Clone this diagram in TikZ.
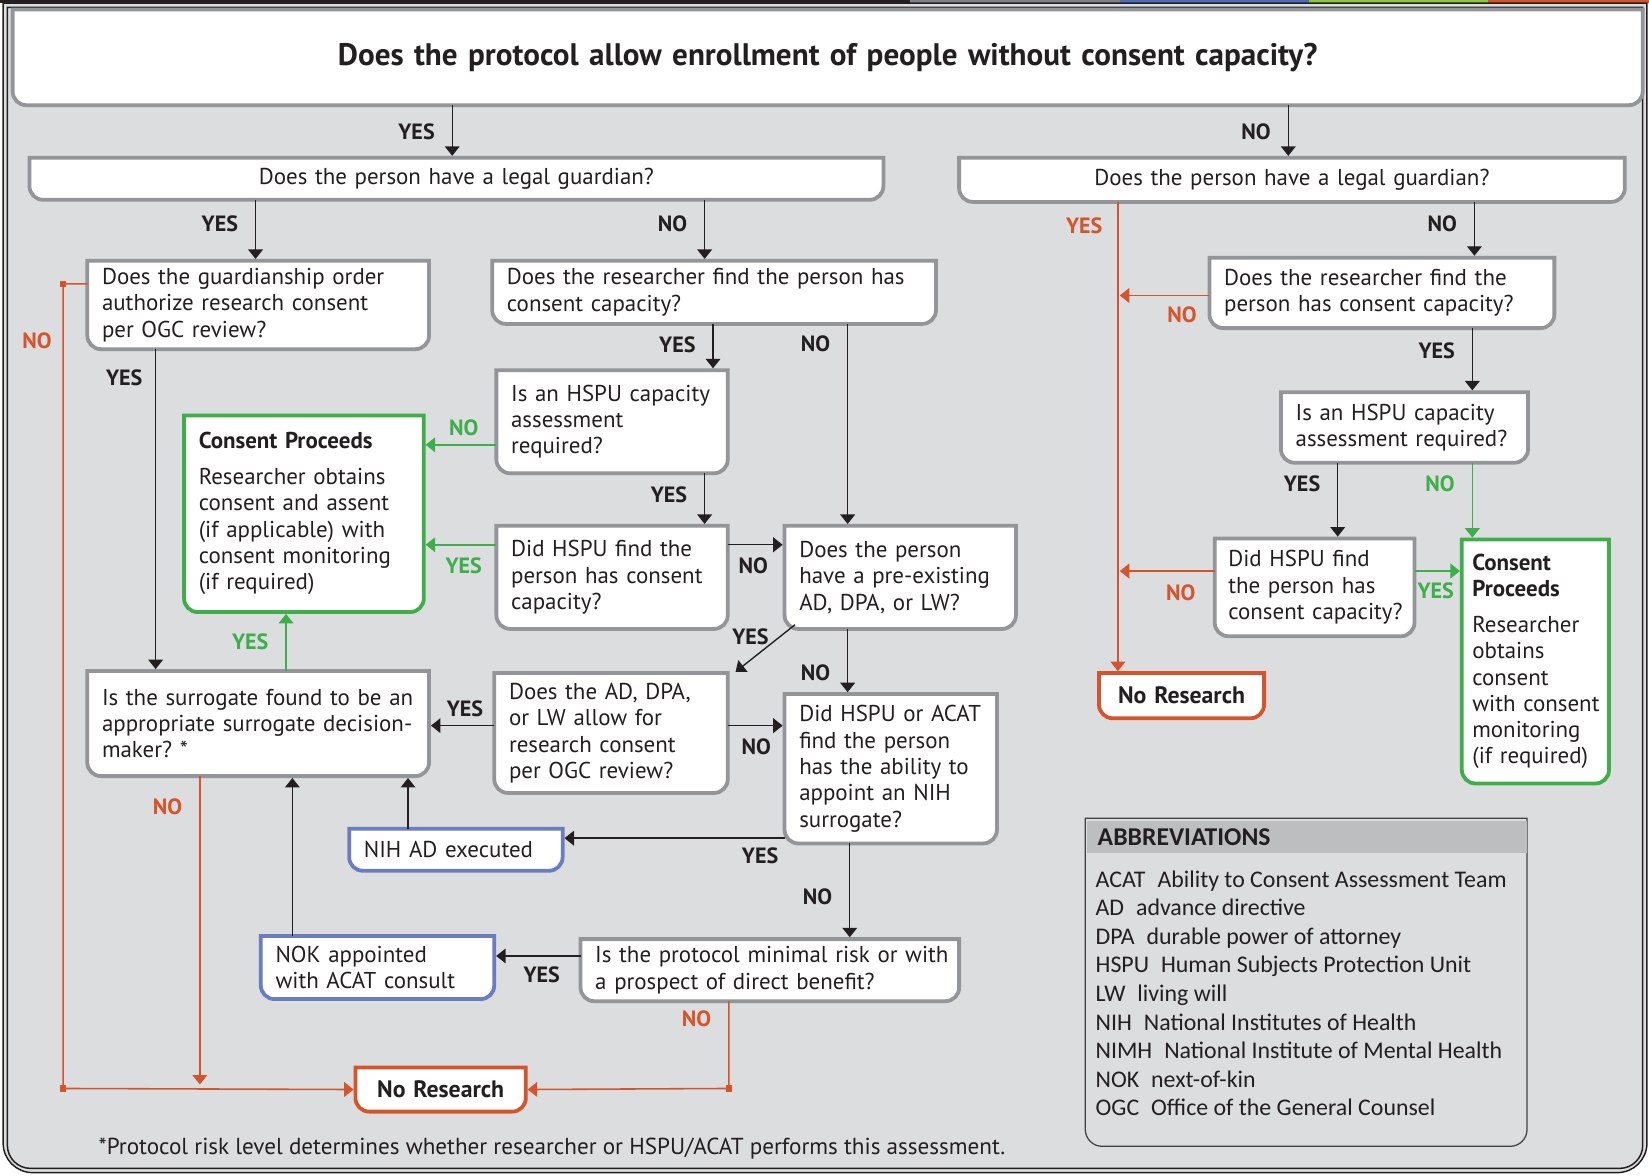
\documentclass[tikz,border=0pt]{standalone}
\usepackage{fontspec}
\setmainfont{PT Sans}
\newfontfamily\abbrfont{Carlito}
\usepackage{xcolor}
\usetikzlibrary{arrows.meta, positioning, backgrounds}
\hyphenpenalty=10000
\exhyphenpenalty=10000

\definecolor{bggray}{HTML}{DCDDDE}
\definecolor{boxgray}{HTML}{939598}
\definecolor{headgray}{HTML}{BCBEC0}
\definecolor{okgreen}{HTML}{3DAE49}
\definecolor{stoporange}{HTML}{D6542B}
\definecolor{nihblue}{HTML}{6A7DC0}
\definecolor{ink}{HTML}{231F20}
\definecolor{stripgray}{HTML}{808285}
\definecolor{stripblue}{HTML}{4F6DB5}
\definecolor{stripgreen}{HTML}{8DC63F}

% box with square top corners and rounded bottom corners
\newcommand{\qframe}[2]{%
  \filldraw[draw=#2, fill=white, line width=1.8pt]
    (#1.east) |- (#1.north west) -- (#1.west) [rounded corners=6.5pt] |- (#1.south east) -- (#1.east);}

\begin{document}
\begin{tikzpicture}[x=0.5pt, y=-0.5pt, thick]
    \tikzstyle{qbox} = [anchor=north west, inner xsep=7pt, inner ysep=0pt, outer sep=0pt, align=left, text=ink, font=\fontsize{10.9}{12.5}\selectfont]
    \tikzstyle{endbox} = [qbox, align=center, font=\bfseries\fontsize{11.3}{12.5}\selectfont]
    \tikzstyle{lab} = [inner sep=1pt, text=ink, font=\bfseries\fontsize{10.5}{12}\selectfont]
    \tikzstyle{line} = [draw=ink, line width=0.65pt, -{Triangle[width=7pt,length=4.5pt]}, shorten >=0.9pt]
    \tikzstyle{noline} = [line, draw=stoporange, line width=0.75pt]
    \tikzstyle{okline} = [line, draw=okgreen, line width=0.75pt]

    \useasboundingbox (0,0) rectangle (1568,1118);

    % title and first questions
    \node[qbox, align=center, minimum width=775pt, minimum height=45.5pt, text width=761pt, font=\bfseries\fontsize{14.8}{17}\selectfont] (title) at (12,9) {Does the protocol allow enrollment of people without consent capacity?};
    \node[qbox, align=center, minimum width=406pt, minimum height=20pt, text width=392pt] (guardL) at (28,150) {Does the person have a legal guardian?};
    \node[qbox, align=center, minimum width=316.5pt, minimum height=21pt, text width=302.5pt] (guardR) at (912,150) {Does the person have a legal guardian?};

    % left branch
    \node[qbox, minimum width=162.5pt, minimum height=42pt, text width=148.5pt] (orderL) at (83,248) {Does~the~guardianship~order\\authorize~research~consent\\per~OGC~review?};
    \node[qbox, minimum width=211pt, minimum height=30pt, text width=197pt] (resL) at (468,248) {Does~the~researcher~find~the~person~has\\consent~capacity?};
    \node[qbox, minimum width=110pt, minimum height=49pt, text width=96pt] (assessL) at (472,352) {Is~an~HSPU~capacity\\assessment\\required?};
    \node[qbox, minimum width=114pt, minimum height=93.5pt, text width=100pt] (consentL) at (175,395) {\textbf{Consent~Proceeds}\\[4.5pt]Researcher~obtains\\consent~and~assent\\(if~applicable)~with\\consent~monitoring\\(if~required)};
    \node[qbox, minimum width=110pt, minimum height=49pt, text width=96pt] (hspuL) at (472,500) {Did~HSPU~find~the\\person~has~consent\\capacity?};
    \node[qbox, minimum width=110pt, minimum height=49pt, text width=96pt] (adL) at (746,500) {Does~the~person\\have~a~pre-existing\\AD,~DPA,~or~LW?};
    \node[qbox, minimum width=111pt, minimum height=57pt, text width=97pt] (adallow) at (470,640) {Does~the~AD,~DPA,\\or~LW~allow~for\\research~consent\\per~OGC~review?};
    \node[qbox, minimum width=101pt, minimum height=71pt, text width=87pt] (haL) at (746,660) {Did~HSPU~or~ACAT\\find~the~person\\has~the~ability~to\\appoint~an~NIH\\surrogate?};
    \node[qbox, minimum width=162.5pt, minimum height=50pt, text width=148.5pt] (surr) at (83,638) {Is~the~surrogate~found~to~be~an\\appropriate~surrogate~decision-\\maker?~*};
    \node[qbox, minimum width=101.5pt, minimum height=20pt, text width=87.5pt] (nihad) at (332,788) {NIH~AD~executed};
    \node[qbox, minimum width=111pt, minimum height=30pt, text width=97pt] (nok) at (248,890) {NOK~appointed\\with~ACAT~consult};
    \node[qbox, minimum width=180pt, minimum height=29.5pt, text width=166pt] (proto) at (552,893) {Is~the~protocol~minimal~risk~or~with\\a~prospect~of~direct~benefit?};
    \node[endbox, minimum width=81pt, minimum height=21pt, text width=67pt] (noresL) at (338,1015) {No~Research};

    % right branch
    \node[qbox, minimum width=164pt, minimum height=33.5pt, text width=150pt] (resR) at (1150,245) {Does~the~researcher~find~the\\person~has~consent~capacity?};
    \node[qbox, minimum width=117.5pt, minimum height=33.5pt, text width=103.5pt] (assessR) at (1218,373) {Is~an~HSPU~capacity\\assessment~required?};
    \node[qbox, inner xsep=6.5pt, minimum width=95pt, minimum height=46.5pt, text width=82pt] (hspuR) at (1155,512) {Did~HSPU~find\\the~person~has\\consent~capacity?};
    \node[qbox, inner xsep=5pt, minimum width=70pt, minimum height=116pt, text width=60pt] (consentR) at (1390,513) {\textbf{Consent}\\\textbf{Proceeds}\\[4.5pt]Researcher\\obtains\\consent\\with~consent\\monitoring\\(if~required)};
    \node[endbox, minimum width=78.5pt, minimum height=21.5pt, text width=64.5pt] (noresR) at (1045,640) {No~Research};

    % abbreviations
    \node[anchor=north west, minimum width=210pt, minimum height=156pt, inner sep=0pt, outer sep=0pt] (abbr) at (1032,778) {};
    \node[anchor=north west, fill=headgray, minimum width=209pt, minimum height=15pt, inner xsep=5pt, inner ysep=0pt, text width=199pt, font=\abbrfont\bfseries\fontsize{12.2}{13}\selectfont, text=ink] (abbrhead) at (1033,780) {ABBREVIATIONS};
    \node[anchor=north west, inner sep=3pt, align=left, text=ink, font=\abbrfont\fontsize{11.35}{13.6}\selectfont] (abbrlist) at (1035,821) {ACAT\enspace Ability to Consent Assessment Team\\AD\enspace advance directive\\DPA\enspace durable power of attorney\\HSPU\enspace Human Subjects Protection Unit\\LW\enspace living will\\NIH\enspace National Institutes of Health\\NIMH\enspace National Institute of Mental Health\\NOK\enspace next-of-kin\\OGC\enspace Office of the General Counsel};

    \node[anchor=west, inner sep=0pt, text=ink, font=\fontsize{11}{12.5}\selectfont] (note) at (93,1092) {*Protocol risk level determines whether researcher or HSPU/ACAT performs this assessment.};

    \coordinate (trunkL) at (60,1035);
    \coordinate (dropL) at (190,1033);
    \coordinate (cornerR) at (693,1035);
    \coordinate (trunkR) at (1063,0);

    % connectors, left half
    \draw[line] (430,0 |- title.south) -- node[lab, left=7pt] {YES} (430,0 |- guardL.north);
    \draw[line] (243,0 |- guardL.south) -- node[lab, left=7pt, pos=.4] {YES} (243,0 |- orderL.north);
    \draw[line] (670,0 |- guardL.south) -- node[lab, left=7pt, pos=.4] {NO} (670,0 |- resL.north);
    \draw[line] (148,0 |- orderL.south) -- node[lab, left=5pt, pos=.09] {YES} (148,0 |- surr.north);
    \draw[noline] (orderL.west |- 0,270) -- (trunkL |- 0,270) -- node[lab, text=stoporange, left=4pt, pos=.07] {NO} (trunkL) -- (noresL.west);
    \draw[line] (678,0 |- resL.south) -- node[lab, left=7pt, pos=.45] {YES} (678,0 |- assessL.north);
    \draw[line] (806,0 |- resL.south) -- node[lab, left=7pt, pos=.1] {NO} (806,0 |- adL.north);
    \draw[okline] (assessL.west |- 0,423) -- node[lab, text=okgreen, above=3pt, pos=.45] {NO} (consentL.east |- 0,423);
    \draw[line] (670,0 |- assessL.south) -- node[lab, left=7pt, pos=.4] {YES} (670,0 |- hspuL.north);
    \draw[okline] (hspuL.west |- 0,518) -- node[lab, text=okgreen, below=5pt, pos=.45] {YES} (consentL.east |- 0,518);
    \draw[line] (hspuL.east |- 0,518) -- node[lab, below=5pt, pos=.45] {NO} (adL.west |- 0,518);
    \draw[line] ([xshift=5pt, yshift=2pt]adL.south west) -- node[lab, left=4pt, pos=.25] {YES} ([xshift=3pt]adallow.north east);
    \draw[line] (806,0 |- adL.south) -- node[lab, left=7pt, pos=.68] {NO} (806,0 |- haL.north);
    \draw[line] (adallow.west |- 0,690) -- node[lab, above=3pt, pos=.45] {YES} (surr.east |- 0,690);
    \draw[line] (adallow.east |- 0,690) -- node[lab, below=5pt, pos=.5] {NO} (haL.west |- 0,690);
    \draw[line] (haL.west |- 0,797) -- node[lab, below=3pt, pos=.11] {YES} (nihad.east |- 0,797);
    \draw[line] (808,0 |- haL.south) -- node[lab, left=7pt, pos=.56] {NO} (808,0 |- proto.north);
    \draw[okline] (272,0 |- surr.north) -- node[lab, text=okgreen, left=7pt, pos=.5] {YES} (272,0 |- consentL.south);
    \draw[noline] (surr.south -| dropL) -- node[lab, text=stoporange, left=7pt, pos=.1] {NO} (dropL);
    \draw[line] (388,0 |- nihad.north) -- (388,0 |- surr.south);
    \draw[line] (278,0 |- nok.north) -- (278,0 |- surr.south);
    \draw[line] (proto.west |- 0,909) -- node[lab, below=4pt, pos=.45] {YES} (nok.east |- 0,909);
    \draw[noline] (proto.south -| cornerR) -- node[lab, text=stoporange, left=7pt, pos=.2] {NO} (cornerR) -- (noresL.east);
    \fill[stoporange] (trunkL |- 0,270) +(-3,-3) rectangle +(3,3);
    \fill[stoporange] (trunkL) +(-3,-3) rectangle +(3,3);
    \fill[stoporange] (cornerR) +(-3,-3) rectangle +(3,3);

    % connectors, right half
    \draw[line] (1225,0 |- title.south) -- node[lab, left=7pt] {NO} (1225,0 |- guardR.north);
    \draw[noline] (trunkR |- guardR.south) -- node[lab, text=stoporange, left=6pt, pos=.05] {YES} (trunkR |- noresR.north);
    \draw[line] (1402,0 |- guardR.south) -- node[lab, left=7pt, pos=.4] {NO} (1402,0 |- resR.north);
    \draw[noline] (resR.west |- 0,281) -- node[lab, text=stoporange, below=4pt, pos=.3] {NO} (trunkR |- 0,281);
    \draw[line] (1400,0 |- resR.south) -- node[lab, left=7pt, pos=.35] {YES} (1400,0 |- assessR.north);
    \draw[line] (1272,0 |- assessR.south) -- node[lab, left=7pt, pos=.28] {YES} (1272,0 |- hspuR.north);
    \draw[okline] (1400,0 |- assessR.south) -- node[lab, text=okgreen, left=7pt, pos=.28] {NO} (1400,0 |- consentR.north);
    \draw[noline] (hspuR.west |- 0,543) -- node[lab, text=stoporange, below=5pt, pos=.35] {NO} (trunkR |- 0,543);
    \draw[okline] (hspuR.east |- 0,543) -- node[lab, text=okgreen, below=4pt, pos=.45] {YES} (consentR.west |- 0,543);

    \begin{scope}[on background layer]
        % strip at the top edge of the page
        \fill[ink] (0,0) rectangle (865,2.5);
        \fill[stripgray] (865,0) rectangle (1065,2.5);
        \fill[stripblue] (1065,0) rectangle (1245,2.5);
        \fill[stripgreen] (1245,0) rectangle (1415,2.5);
        \fill[stoporange] (1415,0) rectangle (1568,2.5);
        % outer frame
        \filldraw[fill=bggray, draw=ink, line width=0.7pt] (1566,560) |- (3,3) -- (3,560) [rounded corners=14pt] |- (1566,1115) -- (1566,560);
        \draw[ink, line width=0.7pt] (1562,560) |- (7,7) -- (7,560) [rounded corners=11pt] |- (1562,1111) -- (1562,560);
        \foreach \n in {title, guardL, guardR, orderL, resL, assessL, hspuL, adL, adallow, haL, surr, proto, resR, assessR, hspuR}
            \qframe{\n}{boxgray};
        \foreach \n in {consentL, consentR}
            \qframe{\n}{okgreen};
        \foreach \n in {nihad, nok}
            \qframe{\n}{nihblue};
        \foreach \n in {noresL, noresR}
            \qframe{\n}{stoporange};
        \filldraw[fill=bggray, draw=ink!85, line width=0.6pt] (abbr.east) |- (abbr.north west) -- (abbr.west) [rounded corners=8pt] |- (abbr.south east) -- (abbr.east);
    \end{scope}
\end{tikzpicture}
\end{document}
